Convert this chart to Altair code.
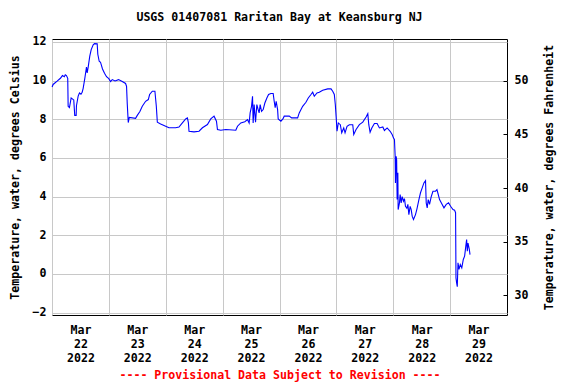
import altair as alt
import pandas as pd

# hours since 2022-03-22 00:00 (UTC-naive timeline of the gage)
hours = [
    0.04, 0.47, 2.16, 3.55, 4.4, 5.2, 5.6, 6.09, 6.64, 6.81, 7.36, 8.08, 9.18, 9.6, 10.19, 10.32,
    11.04, 11.59, 12.22, 12.73, 13.15, 13.83, 14.55, 14.84, 15.27, 15.94, 16.54, 17.38,
    17.93, 19.07, 19.33, 19.92, 20.47, 21.31, 22.16, 23.01, 23.98, 24.7, 25.42, 26.6, 28.08,
    29.65, 31.04, 31.46, 31.76, 32.18, 32.61, 35.27, 35.99, 37.09,
    38.1, 39.5, 40.64, 41.19, 42.33, 43.43, 44.02, 44.45, 45.84, 47.96, 49.35, 52.19,
    53.58, 55.02, 56.41, 57.13, 57.56, 57.81, 59.93, 62.04, 63.48, 65.59, 66.99, 68.38,
    69.4, 69.82, 71.22, 73.33,
    77.56, 78.28, 79.67, 81.36, 82.51, 83.19, 83.61, 84.2, 84.62, 84.88, 85.3, 85.89,
    86.44, 86.99, 87.41, 87.84, 88.43, 89.11, 89.82, 90.67, 91.39, 92.36, 93.33, 93.76,
    94.18, 94.6, 95.2, 95.45, 96.59, 97.44, 97.99, 100.1, 101.12, 103.65, 104.33, 105.77,
    107.16, 108.14, 109.28,
    110.0, 110.68, 111.82, 112.79, 114.23, 116.34, 117.74, 118.45, 119.13, 119.55, 119.98,
    120.27, 120.82, 121.67, 122.26, 123.11, 123.66, 124.5, 125.47, 126.91, 127.33, 128.31,
    129.7, 131.14, 132.54, 133.26, 133.68, 134.23, 134.95, 136.05, 137.19, 138.16, 139.6,
    140.28, 141.42, 142.69, 143.53, 144.08, 144.51,
    144.8, 144.93, 145.22, 145.43, 145.64, 145.94, 146.07, 146.62, 146.91, 147.34, 147.76,
    148.31, 148.73, 149.16, 149.75, 150.17, 150.59, 151.14, 151.57, 151.99, 152.54, 153.39,
    153.98, 154.83, 155.5, 156.22, 156.94, 157.62, 157.91, 158.33, 158.76, 159.31, 160.03,
    160.75, 161.85, 162.44, 162.99, 163.54, 164.26, 165.4, 166.37, 167.34, 168.19, 169.2,
    169.88, 170.3, 170.47, 170.73, 171.02, 171.32, 171.74, 172.29, 172.92, 173.56, 174.11,
    174.53, 174.96, 175.25, 175.55, 176.1, 176.39,
]

temp_c = [
    9.67, 9.8, 9.97, 10.12, 10.26, 10.2, 10.3, 10.26, 10.12, 8.67, 8.6, 9.1, 9.0, 8.2, 8.2, 8.7,
    9.2, 9.36, 9.3, 9.4, 9.6, 10.1, 10.7, 10.4, 10.7, 11.26, 11.6, 11.85,
    11.91, 11.9, 11.36, 11.0, 10.95, 10.6, 10.38, 10.2, 10.1, 9.95, 10.05, 9.98, 10.05,
    9.95, 9.85, 9.7, 8.79, 7.83, 8.1, 8.05, 8.2, 8.4,
    8.67, 8.93, 9.02, 9.28, 9.45, 9.45, 8.67, 7.85, 7.76, 7.64, 7.56, 7.56,
    7.6, 7.81, 8.02, 8.07, 7.81, 7.38, 7.35, 7.38, 7.56, 7.73, 8.02, 8.16,
    7.9, 7.47, 7.43, 7.47,
    7.43, 7.64, 7.81, 7.87, 7.98, 7.81, 8.33, 8.67, 9.19, 7.81, 8.76, 7.85,
    8.76, 8.5, 8.33, 8.76, 8.41, 8.5, 8.84, 9.1, 9.28, 9.33, 9.33, 8.93,
    8.6, 8.93, 8.5, 8.02, 7.9, 8.02, 8.16, 8.16, 8.07, 8.07, 8.33, 8.67,
    8.88, 9.1, 9.28,
    9.4, 9.19, 9.36, 9.4, 9.5, 9.57, 9.57, 9.45, 9.28, 8.76, 7.98,
    7.38, 7.81, 7.72, 7.3, 7.55, 7.3, 7.64, 7.72, 7.72, 7.21, 7.47,
    7.72, 7.85, 8.12, 8.29, 7.72, 7.33, 7.55, 7.78, 7.78, 7.55, 7.6,
    7.42, 7.55, 7.38, 7.21, 7.04, 6.95,
    6.09, 4.71, 6.09, 5.9, 3.85, 5.23, 3.33, 3.68, 4.11, 3.68, 4.0,
    3.76, 3.9, 3.5, 3.4, 3.6, 3.07, 3.5, 3.33, 2.99, 2.82, 3.07,
    3.36, 3.85, 4.2, 4.45, 4.71, 4.83, 3.68, 3.42, 3.85, 3.6, 4.0,
    4.28, 4.28, 4.36, 4.11, 3.85, 3.68, 3.42, 3.6, 3.68, 3.5, 3.33,
    3.3, 3.17, -0.2, -0.45, -0.66, 0.58, 0.24, 0.49, 0.32, 0.75, 0.92,
    1.35, 1.78, 1.18, 1.6, 1.27, 1.0,
]

y_ticks_c = [-2, 0, 2, 4, 6, 8, 10, 12]
y_ticks_f = [30, 35, 40, 45, 50]
c_domain = [-2.12, 12.15]
f_domain = [c * 1.8 + 32 for c in c_domain]

base = pd.Timestamp("2022-03-22 00:00:00")
times = [(base + pd.Timedelta(hours=h)).strftime("%Y-%m-%dT%H:%M:%SZ") for h in hours]
temp_f = [c * 1.8 + 32 for c in temp_c]
df = pd.DataFrame({"time": times, "temp_c": temp_c, "temp_f": temp_f})

FONT = "DejaVu Sans Mono"
FS = 11.6
GRID = "#c8c8c8"

day_values = [alt.DateTime(year=2022, month=3, date=d, utc=True) for d in range(22, 30)]
x_domain = [alt.DateTime(year=2022, month=3, date=22, utc=True),
            alt.DateTime(year=2022, month=3, date=30, utc=True)]

x_enc = alt.X(
    "time:T",
    scale=alt.Scale(type="utc", domain=x_domain),
    axis=alt.Axis(
        values=day_values,
        labelExpr="[utcFormat(datum.value, '%b'), utcFormat(datum.value, '%d'), utcFormat(datum.value, '%Y')]",
        labelOffset=28.4, labelLineHeight=14, labelPadding=9, labelBaseline="top",
        labelAngle=0, labelFlush=False, labelOverlap=False, labelBound=False,
        ticks=False, domain=False, grid=True, gridColor=GRID,
        title="---- Provisional Data Subject to Revision ----",
        titleColor="#ff0000", titleY=60, titleBaseline="middle",
    ),
)

line = alt.Chart(df).mark_line(color="#0000ff", strokeWidth=1.1).encode(
    x=x_enc,
    y=alt.Y(
        "temp_c:Q",
        scale=alt.Scale(domain=c_domain, nice=False, zero=False),
        axis=alt.Axis(
            values=y_ticks_c, grid=True, gridColor=GRID, ticks=False, domain=False,
            labelPadding=6,
            title="Temperature, water, degrees Celsius",
            titleX=-37, titleY=138, titleAngle=270, titleAlign="center", titleBaseline="middle",
        ),
    ),
)

ghost = alt.Chart(df).mark_line(opacity=0).encode(
    x=alt.X("time:T", scale=alt.Scale(type="utc", domain=x_domain)),
    y=alt.Y(
        "temp_f:Q",
        scale=alt.Scale(domain=f_domain, nice=False, zero=False),
        axis=alt.Axis(
            orient="right", values=y_ticks_f, grid=False, domain=False,
            ticks=True, tickSize=4, offset=-4, tickColor="black", tickWidth=1,
            labelPadding=7,
            title="Temperature, water, degrees Fahrenheit",
            titleX=46, titleY=138, titleAngle=270, titleAlign="center", titleBaseline="middle",
        ),
    ),
)

chart = (
    alt.layer(line, ghost)
    .resolve_scale(y="independent")
    .properties(
        width=455,
        height=276,
        title=alt.TitleParams(
            "USGS 01407081 Raritan Bay at Keansburg NJ",
            font=FONT, fontSize=FS, fontWeight="bold", anchor="middle", offset=12, color="black",
        ),
        autosize=alt.AutoSizeParams(type="none"),
        padding={"left": 44, "top": 31, "right": 61, "bottom": 67},
    )
    .configure_view(stroke="black", strokeWidth=1)
    .configure_axis(
        labelFont=FONT, labelFontSize=FS, labelFontWeight="bold", labelColor="black",
        titleFont=FONT, titleFontSize=FS, titleFontWeight="bold", titleColor="black",
    )
)

chart.save("out.html", embed_options={"renderer": "svg", "actions": False})
